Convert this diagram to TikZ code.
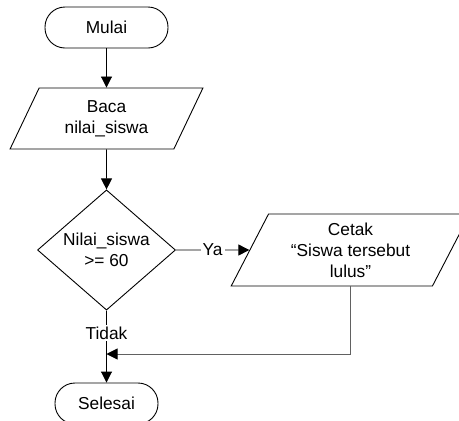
\documentclass[tikz,border=0pt]{standalone}
\usepackage{fontspec}
\setmainfont{Liberation Sans}
\usetikzlibrary{shapes.geometric,arrows.meta}
\begin{document}
\begin{tikzpicture}[x=1pt,y=-1pt,
  every node/.style={font=\fontsize{17.3}{21}\selectfont, align=center, inner sep=0pt},
  shapeline/.style={draw=black, line width=0.9pt},
  terminal/.style={shapeline, rectangle, rounded corners=20pt, minimum height=41pt},
  iobox/.style={shapeline, trapezium, trapezium stretches=true,
    trapezium left angle=63.6, trapezium right angle=116.4},
  decision/.style={shapeline, diamond, minimum width=138pt, minimum height=116pt},
  flow/.style={line width=0.9pt, -{Triangle[length=11pt,width=11pt]}},
  flowgray/.style={line width=0.9pt, draw=black!62, -{Triangle[length=11pt,width=11pt,color=black]}},
  lbl/.style={fill=white, inner sep=2pt}]
  \clip (0,0) rectangle (459,421);

  \node[terminal, minimum width=123pt] (mulai) at (106.5,27.5) {Mulai};
  \node[iobox, minimum width=193pt, minimum height=61pt] (baca) at (106.5,118.5) {Baca\\nilai\_siswa};
  \node[decision] (dec) at (106.5,250) {Nilai\_siswa\\>= 60};
  \node[iobox, minimum width=239pt, minimum height=72pt] (cetak) at (350.5,250)
    {Cetak\\“Siswa tersebut\\lulus”};
  \node[terminal, minimum width=103pt] (selesai) at (106.5,403.5) {Selesai};
  \coordinate (join) at (106.5,354);

  \draw[flow] (mulai) -- (baca);
  \draw[flow] (baca) -- (dec);
  \draw[flow] (dec.east) -- (cetak) node[lbl, pos=0.5] {Ya};
  \draw[flow] (dec.south) -- (selesai) node[lbl, pos=0.31] {Tidak};
  \draw[flowgray] (cetak.center |- cetak.south) -- (cetak.center |- join) -- (join);
\end{tikzpicture}
\end{document}
